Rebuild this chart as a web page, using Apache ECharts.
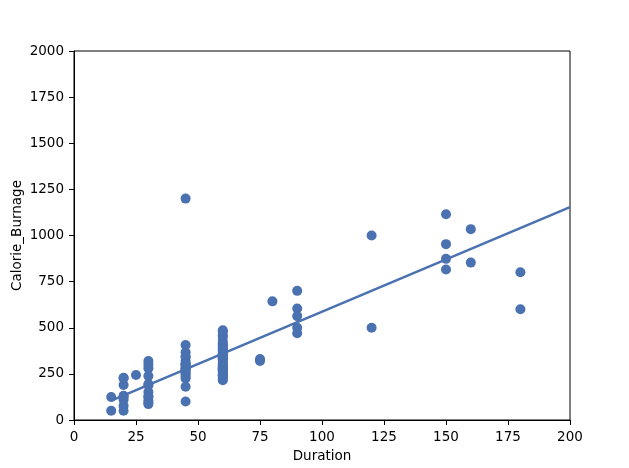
<!DOCTYPE html>
<html>
<head>
<meta charset="utf-8">
<script src="https://cdn.jsdelivr.net/npm/echarts@6/dist/echarts.min.js"></script>
<style>html,body{margin:0;padding:0;background:#fff}#c{width:629px;height:468px}</style>
</head>
<body>
<div id="c"></div>
<script>
var durations = [15, 20, 25, 30, 45, 60, 75, 80, 90, 120, 150, 160, 180];
var caloriesByDuration = [
  [50.5, 124.2],
  [50.3, 77.7, 110.4, 127.4, 131.4, 190, 226.4, 229.4],
  [244.2],
  [319.2, 300.1, 280, 238, 195.1, 188.2, 151.1, 128.2, 124, 105.3, 92.7, 86.2],
  [1200, 406, 367.6, 344, 341, 321, 305, 304, 300, 298, 282.4, 280, 275, 266, 253.3, 246, 234, 225.3, 180.1, 100],
  [409.1, 479, 340, 300, 374, 269, 329.3, 250.7, 345.3, 379.3, 275, 215.2, 323, 364.2, 334.5, 250, 241, 280, 380.3, 243, 299, 223, 361, 415, 286, 400, 397, 273, 387.6, 263, 486, 450.7, 430, 460, 310, 290, 235, 355],
  [330, 320],
  [643.1],
  [700, 604.1, 563.2, 500, 470],
  [1000.1, 500],
  [1115, 953.2, 873.4, 816],
  [1034.4, 853],
  [800.4, 600.1]
];
var fitX = [15, 200];
var fitY = [105, 1154];
var xTicks = [0, 25, 50, 75, 100, 125, 150, 175, 200];
var yTicks = [0, 250, 500, 750, 1000, 1250, 1500, 1750, 2000];

var points = [];
durations.forEach(function (d, i) {
  caloriesByDuration[i].forEach(function (c) { points.push([d, c]); });
});
var fit = fitX.map(function (x, i) { return [x, fitY[i]]; });
var blue = '#4a71b0';
var font = 'DejaVu Sans';
var fs = 13.5;
var chart = echarts.init(document.getElementById('c'));
chart.setOption({
  animation: false,
  grid: { left: 74, right: 59, top: 51, bottom: 48, outerBoundsMode: 'none', containLabel: false, show: true, borderColor: '#000', borderWidth: 1, backgroundColor: 'transparent' },
  xAxis: {
    type: 'value', min: xTicks[0], max: xTicks[xTicks.length - 1], interval: xTicks[1] - xTicks[0],
    name: 'Duration', nameLocation: 'middle', nameGap: 29, nameMoveOverlap: false,
    nameTextStyle: { fontFamily: font, fontSize: fs, color: '#000' },
    axisLine: { show: true, onZero: false, lineStyle: { color: '#000', width: 1 } },
    axisTick: { show: true, inside: false, length: 5, lineStyle: { color: '#000' } },
    axisLabel: { fontFamily: font, fontSize: fs, color: '#000', margin: 10, formatter: function (v) { return String(v); } },
    splitLine: { show: false }
  },
  yAxis: {
    type: 'value', min: yTicks[0], max: yTicks[yTicks.length - 1], interval: yTicks[1] - yTicks[0],
    name: 'Calorie_Burnage', nameLocation: 'middle', nameGap: 50, nameMoveOverlap: false,
    nameTextStyle: { fontFamily: font, fontSize: fs, color: '#000' },
    axisLine: { show: true, onZero: false, lineStyle: { color: '#000', width: 1 } },
    axisTick: { show: true, inside: false, length: 5, lineStyle: { color: '#000' } },
    axisLabel: { fontFamily: font, fontSize: fs, color: '#000', margin: 10, formatter: function (v) { return String(v); } },
    splitLine: { show: false }
  },
  series: [
    { type: 'scatter', data: points, symbolSize: 10, itemStyle: { color: blue, opacity: 1 }, z: 2 },
    { type: 'line', data: fit, symbol: 'none', lineStyle: { color: blue, width: 2.5 }, z: 3 }
  ]
});
</script>
</body>
</html>
